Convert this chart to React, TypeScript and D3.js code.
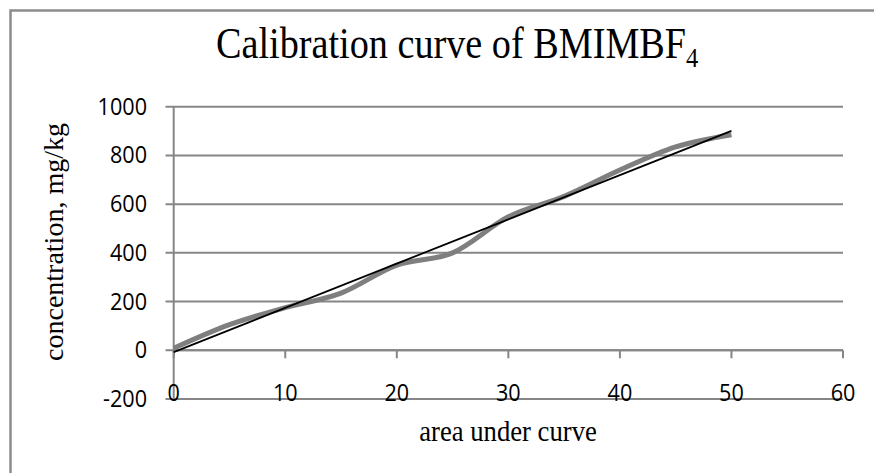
import * as d3 from 'd3';

// area under curve vs concentration (mg/kg)
const areaValues = [0, 5, 10, 15, 20, 25, 30, 35, 40, 45, 50];
const concValues = [8, 105, 175, 235, 350, 400, 548, 632, 740, 835, 885];
const xTicks = [0, 10, 20, 30, 40, 50, 60];
const yTicks = [-200, 0, 200, 400, 600, 800, 1000];

const W = 874;
const H = 473;
const GRID = '#868686';
const TICK_FONT = '"Open Sans", sans-serif';
const SERIF = '"Liberation Serif", "Times New Roman", serif';

const App = (): JSX.Element => {
  const x = d3.scaleLinear([0, 60], [173.7, 843]);
  const y = d3.scaleLinear([-200, 1000], [399, 106.7]);

  const points = areaValues.map((a, i) => [a, concValues[i]] as [number, number]);

  // least squares trendline
  const mx = d3.mean(areaValues) as number;
  const my = d3.mean(concValues) as number;
  const sxy = d3.sum(points, (p) => (p[0] - mx) * (p[1] - my));
  const sxx = d3.sum(areaValues, (a) => (a - mx) * (a - mx));
  const slope = sxy / sxx;
  const icpt = my - slope * mx;
  const xMin = d3.min(areaValues) as number;
  const xMax = d3.max(areaValues) as number;

  const smooth = d3
    .line<[number, number]>()
    .x((d) => x(d[0]))
    .y((d) => y(d[1]))
    .curve(d3.curveCardinal.tension(0));

  const x0 = x(0);
  const yAxis = y(0);

  return (
    <svg width={W} height={H} style={{ position: 'absolute', left: 0, top: 0 }} viewBox={`0 0 ${W} ${H}`}>
      <rect x={0} y={0} width={W} height={H} fill="#fff" />
      {/* chart frame, only top and left edges are in view */}
      <path d={`M10.5,${H}V10.5H${W}`} fill="none" stroke="#8c8c8c" strokeWidth={2.5} />

      <text transform="translate(216,58) scale(0.91,1.05)" fontFamily={SERIF} fontSize={42} fill="#000">
        Calibration curve of BMIMBF
        <tspan fontSize={27} dy={9}>
          4
        </tspan>
      </text>

      {/* gridlines + y ticks */}
      {yTicks.map((t) => (
        <g key={t}>
          <line x1={165.5} x2={x(60)} y1={y(t)} y2={y(t)} stroke={GRID} strokeWidth={2} />
          <text
            transform={`translate(147,${y(t) + 8}) scale(0.9,1)`}
            textAnchor="end"
            fontFamily={TICK_FONT}
            fontSize={24}
            fill="#000"
          >
            {t}
          </text>
        </g>
      ))}

      {/* y axis line */}
      <line x1={x0} x2={x0} y1={y(1000)} y2={y(-200)} stroke={GRID} strokeWidth={2} />

      {/* x axis at 0 */}
      <line x1={x0} x2={x(60)} y1={yAxis} y2={yAxis} stroke={GRID} strokeWidth={2} />
      {xTicks.map((t) => (
        <g key={t}>
          <line x1={x(t)} x2={x(t)} y1={yAxis} y2={yAxis + 8} stroke={GRID} strokeWidth={2} />
          <text
            transform={`translate(${x(t)},401) scale(0.9,1)`}
            textAnchor="middle"
            fontFamily={TICK_FONT}
            fontSize={24}
            fill="#000"
          >
            {t}
          </text>
        </g>
      ))}

      {/* smoothed data line */}
      <path d={smooth(points) ?? ''} fill="none" stroke="#7f7f7f" strokeWidth={5} strokeLinejoin="round" />
      {/* linear trendline */}
      <line
        x1={x(xMin)}
        y1={y(slope * xMin + icpt)}
        x2={x(xMax)}
        y2={y(slope * xMax + icpt)}
        stroke="#000"
        strokeWidth={1.8}
      />

      <text transform="translate(508,441) scale(0.92,1.05)" textAnchor="middle" fontFamily={SERIF} fontSize={29} fill="#000">
        area under curve
      </text>
      <text
        transform="translate(63,242) rotate(-90)"
        textAnchor="middle"
        fontFamily={SERIF}
        fontSize={28}
        fill="#000"
      >
        concentration, mg/kg
      </text>
    </svg>
  );
};

export default App;
